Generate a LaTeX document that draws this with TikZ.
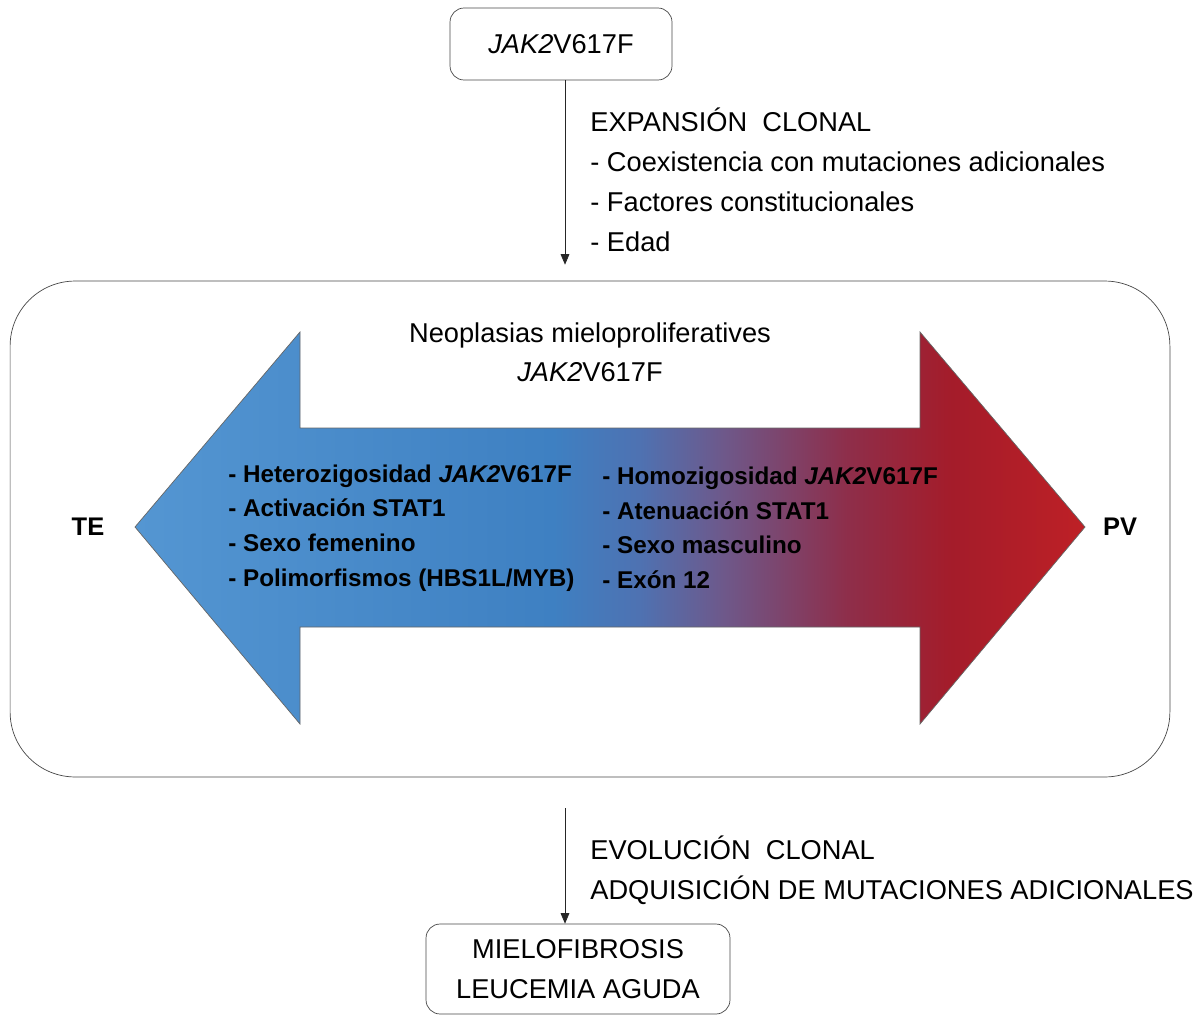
\documentclass[tikz,border=0pt]{standalone}
\usepackage{fontspec}
\setmainfont{Liberation Sans}
\usepackage{tikz}
\usetikzlibrary{arrows.meta,shapes,positioning}
\usepackage{xcolor}
\definecolor{teblue}{RGB}{84,150,210}
\definecolor{temidblue}{RGB}{62,128,194}
\definecolor{mixblue}{RGB}{78,114,178}
\definecolor{mixpurple}{RGB}{110,88,138}
\definecolor{mixred}{RGB}{142,46,74}
\definecolor{pvdark}{RGB}{164,28,42}
\definecolor{pvred}{RGB}{190,32,38}
\definecolor{lineg}{RGB}{70,70,70}
\pgfdeclarehorizontalshading{tepv}{100bp}{color(0bp)=(teblue); color(25bp)=(teblue); color(47bp)=(temidblue); color(51.5bp)=(mixblue); color(56bp)=(mixpurple); color(62.5bp)=(mixred); color(68bp)=(pvdark); color(75bp)=(pvred); color(100bp)=(pvred)}
\tikzstyle{box} = [rectangle, rounded corners=8pt, draw=lineg, align=center, font=\fontsize{15.5}{22.8}\selectfont]
\tikzstyle{arrow} = [-{Triangle[length=6pt,width=5pt]}, color=black!85]
\tikzstyle{note} = [anchor=west, align=left, inner sep=0pt, font=\fontsize{15.5}{22.8}\selectfont]
\tikzstyle{trait} = [anchor=west, align=left, inner sep=0pt, font=\bfseries\fontsize{13.8}{19.7}\selectfont]
\tikzstyle{pole} = [inner sep=0pt, font=\bfseries\fontsize{14.5}{17}\selectfont]

\begin{document}
\begin{tikzpicture}[x=0.02cm, y=-0.02cm]
\useasboundingbox (0,0) rectangle (1203,1014);
% Mutation
\node (jak) [box, minimum width=4.44cm, minimum height=1.44cm] at (561,44) {\textit{JAK2}V617F};

% Neoplasias frame
\node (mpn) [rectangle, rounded corners=1.3cm, draw=lineg, minimum width=23.2cm, minimum height=9.92cm] at (590,529) {};

% Double arrow TE <-> PV
\path[draw=black!60, shading=tepv] (135,527) -- (300,332) -- (300,428) -- (920,428) -- (920,332) -- (1085,527) -- (920,724) -- (920,627) -- (300,627) -- (300,724) -- cycle;
\node (title) [align=center, font=\fontsize{15.5}{22}\selectfont] at (590,352) {Neoplasias mieloproliferatives\\\textit{JAK2}V617F};
\node (te) [pole] at (88,527) {TE};
\node (pv) [pole] at (1120,527) {PV};
\node (telist) [trait] at (228,528) {- Heterozigosidad \textit{JAK2}V617F\\- Activación STAT1\\- Sexo femenino\\- Polimorfismos (HBS1L/MYB)};
\node (pvlist) [trait] at (602,528) {- Homozigosidad \textit{JAK2}V617F\\- Atenuación STAT1\\- Sexo masculino\\- Exón 12};

% Outcome
\node (mf) [box, minimum width=6.08cm, minimum height=1.8cm] at (578,969) {MIELOFIBROSIS\\LEUCEMIA AGUDA};

% Arrows
\draw[arrow, shorten >=0.32cm] ([xshift=0.08cm]jak.south) -- ([xshift=0.08cm]jak.south |- mpn.north);
\draw[arrow, shorten <=0.62cm] ([xshift=-0.26cm]mf.north |- mpn.south) -- ([xshift=-0.26cm]mf.north);
\node (exp) [note] at (590,180) {EXPANSIÓN~ CLONAL\\- Coexistencia con mutaciones adicionales\\- Factores constitucionales\\- Edad};
\node (evo) [note] at (590,870) {EVOLUCIÓN~ CLONAL\\ADQUISICIÓN DE MUTACIONES ADICIONALES};
\end{tikzpicture}
\end{document}
